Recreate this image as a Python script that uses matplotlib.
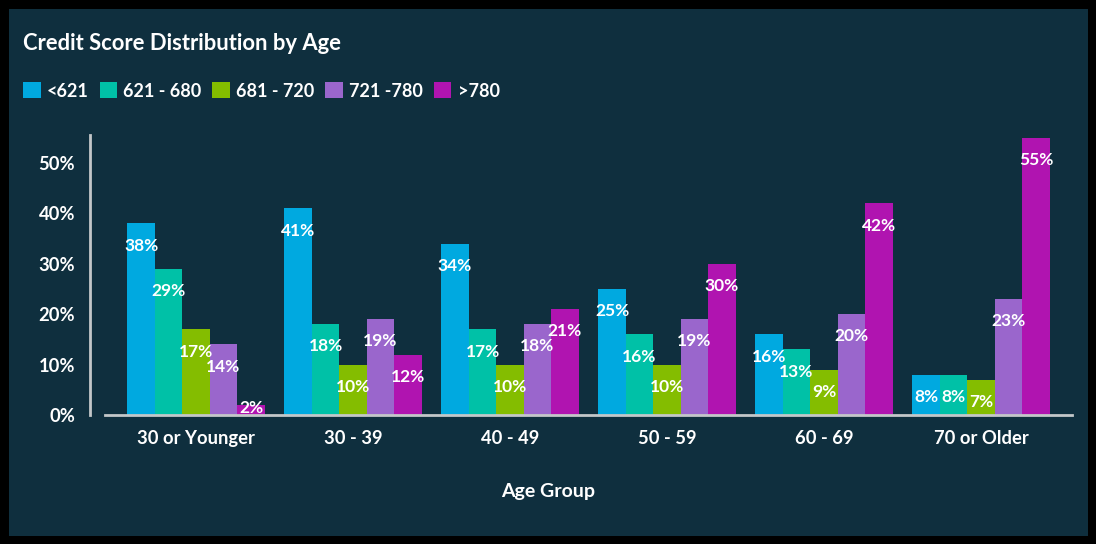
import numpy as np
import matplotlib.pyplot as plt
from matplotlib.patches import Patch

groups = ['30 or Younger', '30 - 39', '40 - 49', '50 - 59', '60 - 69', '70 or Older']
bands = ['<621', '621 - 680', '681 - 720', '721 -780', '>780']
lt621 = [38, 41, 34, 25, 16, 8]
s621_680 = [29, 18, 17, 16, 13, 8]
s681_720 = [17, 10, 10, 10, 9, 7]
s721_780 = [14, 19, 18, 19, 20, 23]
gt780 = [2, 12, 21, 30, 42, 55]
series = [lt621, s621_680, s681_720, s721_780, gt780]
colors = ['#00a9e0', '#00c1a7', '#84bd00', '#9a66cc', '#b014b0']
yticks = [0, 10, 20, 30, 40, 50]

BG = '#0f2f3e'
plt.rcParams['font.family'] = ['Lato', 'DejaVu Sans']

W, H = 1096, 544
fig = plt.figure(figsize=(W / 100, H / 100), dpi=100)
fig.patch.set_facecolor(BG)
fig.patch.set_edgecolor('black')
fig.patch.set_linewidth(11)

ax = fig.add_axes([105 / W, (H - 415) / H, 967 / W, 279.7 / H])
ax.set_facecolor('none')

# spines first: moving a spine resets the ticks
for s in ['top', 'right']:
    ax.spines[s].set_visible(False)
ax.spines['left'].set_position(('outward', 10.8))
for s in ['left', 'bottom']:
    ax.spines[s].set_color('#c3c7c9')
    ax.spines[s].set_linewidth(2)

x = np.arange(len(groups))
bw = 0.175
for i, (vals, c) in enumerate(zip(series, colors)):
    xs = x + (i - 2) * bw
    ax.bar(xs, vals, width=bw, color=c, zorder=2)
    for xx, v in zip(xs, vals):
        ax.text(xx, max(v - 4.4, 1.3), f'{v}%', ha='center', va='center',
                color='white', fontsize=12.5, fontweight='bold', zorder=3)

ax.set_xlim(-0.58, 5.58)
ax.set_ylim(0, 55.5)
ax.set_xticks(x)
ax.set_xticklabels(groups, fontweight='bold')
ax.set_yticks(yticks)
ax.set_yticklabels([f'{t}%' for t in yticks], fontweight='bold')
ax.tick_params(axis='both', length=0, colors='white', labelsize=13.2)
ax.tick_params(axis='x', pad=11)
ax.tick_params(axis='y', pad=10.8)

fig.text(23 / W, (H - 44) / H, 'Credit Score Distribution by Age', color='white',
         fontsize=15.8, fontweight='bold', ha='left', va='center')
fig.text(0.5, (H - 491) / H, 'Age Group', color='white', fontsize=14,
         fontweight='bold', ha='center', va='center')

handles = [Patch(facecolor=c, edgecolor='none') for c in colors]
leg = fig.legend(handles, bands, loc='center left', bbox_to_anchor=(23 / W, (H - 91) / H),
                 ncol=5, frameon=False, fontsize=13.0,
                 handlelength=0.97, handleheight=0.97, handletextpad=0.35,
                 columnspacing=0.6, borderpad=0, borderaxespad=0)
for t in leg.get_texts():
    t.set_color('white')
    t.set_fontweight('bold')

fig.savefig('out.png', dpi=100, facecolor=fig.get_facecolor(), edgecolor='black')
